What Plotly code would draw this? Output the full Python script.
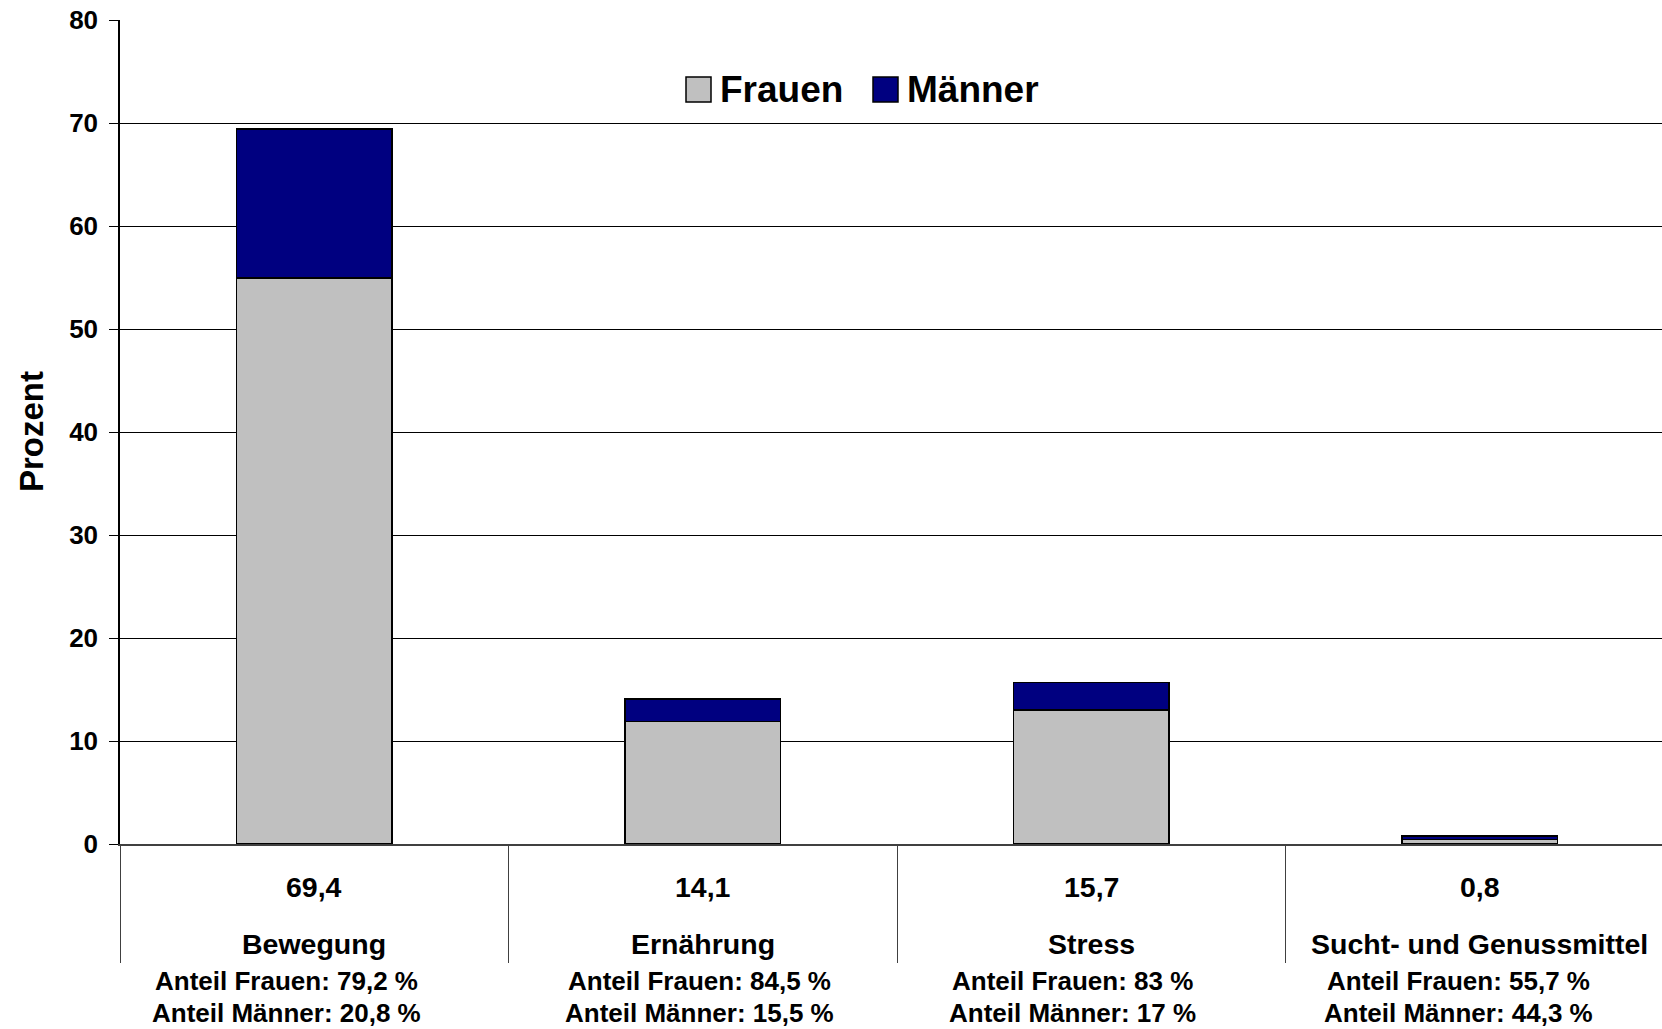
import plotly.graph_objects as go

categories = ["Bewegung", "Ernährung", "Stress", "Sucht- und Genussmittel"]
frauen = [54.96, 11.91, 13.03, 0.45]
maenner = [14.44, 2.19, 2.67, 0.35]
totals = [69.4, 14.1, 15.7, 0.8]
anteil_frauen = [79.2, 84.5, 83, 55.7]
anteil_maenner = [20.8, 15.5, 17, 44.3]
y_ticks = [0, 10, 20, 30, 40, 50, 60, 70, 80]

W, H = 1662, 1029
L, R, T, B = 120, 0, 20, 185
FONT = "Liberation Sans, Arial, sans-serif"
GREY = "#C0C0C0"
NAVY = "#000080"


def de(v):
    return f"{v:g}".replace(".", ",")


def px_x(px):
    return (px - L) / (W - L - R)


def px_y(py):
    return (H - B - py) / (H - T - B)


fig = go.Figure()
fig.add_trace(go.Bar(x=categories, y=frauen, name="Frauen", width=0.4,
                     marker=dict(color=GREY, line=dict(color="black", width=1.5))))
fig.add_trace(go.Bar(x=categories, y=maenner, name="Männer", width=0.4,
                     marker=dict(color=NAVY, line=dict(color="black", width=1.5))))

annotations = []
# small offsets of the share text boxes, like in the original
shifts = [-28, -3, -19, -21]
for i, cat in enumerate(categories):
    annotations.append(dict(x=cat, y=px_y(887), xref="x", yref="paper", text=de(totals[i]),
                            showarrow=False, yanchor="middle", font=dict(size=28.5)))
    annotations.append(dict(x=cat, y=px_y(944), xref="x", yref="paper", text=cat,
                            showarrow=False, yanchor="middle", font=dict(size=28.5)))
    annotations.append(dict(x=cat, y=px_y(981), xref="x", yref="paper", xshift=shifts[i],
                            text=f"Anteil Frauen: {de(anteil_frauen[i])} %",
                            showarrow=False, yanchor="middle"))
    annotations.append(dict(x=cat, y=px_y(1013), xref="x", yref="paper", xshift=shifts[i],
                            text=f"Anteil Männer: {de(anteil_maenner[i])} %",
                            showarrow=False, yanchor="middle"))

annotations.append(dict(x=px_x(31), y=0.5, xref="paper", yref="paper", text="Prozent",
                        textangle=-90, showarrow=False, xanchor="center", yanchor="middle",
                        font=dict(size=33)))

# legend drawn by hand so the swatches get the big squares of the original
shapes = []
for x0, col, name in [(686, GREY, "Frauen"), (873, NAVY, "Männer")]:
    shapes.append(dict(type="rect", xref="paper", yref="paper",
                       x0=px_x(x0), x1=px_x(x0 + 25), y0=px_y(102), y1=px_y(77),
                       fillcolor=col, line=dict(color="black", width=1.5)))
    annotations.append(dict(x=px_x(x0 + 32), y=px_y(89), xref="paper", yref="paper",
                            text=name, showarrow=False, xanchor="left", yanchor="middle",
                            font=dict(size=37)))

fig.update_layout(
    width=W, height=H,
    margin=dict(l=L, r=R, t=T, b=B),
    barmode="stack",
    showlegend=False,
    plot_bgcolor="white",
    paper_bgcolor="white",
    font=dict(family=FONT, size=26, color="black", weight="bold"),
    annotations=annotations,
    shapes=shapes,
)
fig.update_xaxes(range=[-0.5, 3.469], showticklabels=False, tickson="boundaries",
                 ticks="outside", ticklen=117, tickcolor="#404040", tickwidth=1,
                 showline=True, linecolor="#404040", linewidth=1.5, showgrid=False)
fig.update_yaxes(range=[0, 80], tickvals=y_ticks, ticks="outside", ticklen=9,
                 tickcolor="black", showline=True, linecolor="black", linewidth=1.5,
                 gridcolor="black", gridwidth=1, zeroline=False,
                 tickfont=dict(size=26), ticklabelstandoff=6)

fig.write_html("out.html", config={"displayModeBar": False},
               post_script="document.body.style.margin='0';")
